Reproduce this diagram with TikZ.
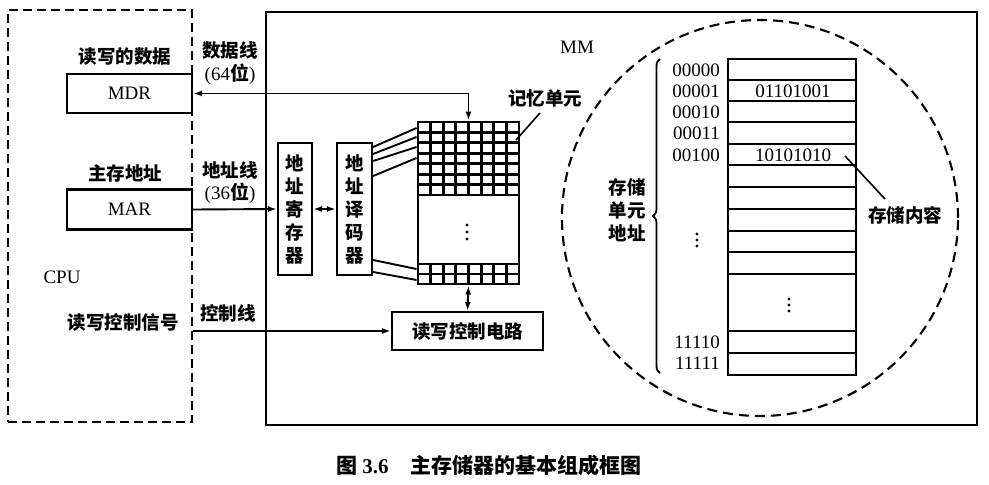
\documentclass[tikz,border=0pt]{standalone}
\usepackage{fontspec}
\setmainfont{Liberation Serif}
\newfontfamily\cjk{Noto Sans CJK SC}
\usetikzlibrary{arrows.meta,decorations.pathreplacing}

\tikzset{
  zh/.style={font=\fontsize{18.5}{22}\selectfont\cjk\bfseries, inner sep=0pt},
  la/.style={font=\fontsize{19}{22}\selectfont, inner sep=0pt},
  vert/.style={draw, line width=2.2pt, inner sep=0pt, align=center,
               font=\fontsize{18.5}{23}\selectfont\cjk\bfseries},
  box/.style={draw, line width=2.2pt, inner sep=0pt},
  dashbox/.style={draw, line width=2.1pt, inner sep=0pt, dash pattern=on 9pt off 5pt},
  wire/.style={line width=1.9pt},
  tip/.style={arrows={-Latex[length=9pt,width=6pt]}},
  both/.style={arrows={Latex[length=9pt,width=6pt]-Latex[length=9pt,width=6pt]}},
  cell/.style={line width=2.9pt},
  dotmark/.style={fill, circle, inner sep=0pt, minimum size=3.2pt}
}

\begin{document}
\begin{tikzpicture}[x=1pt, y=-1pt]
\useasboundingbox (0,0) rectangle (989,485);

% ---- CPU side ----
\node[dashbox, minimum width=184pt, minimum height=412pt] (cpu) at (100,216) {};
\node[box, minimum width=125pt, minimum height=39pt] (mdr) at (129.5,93.5) {};
\node[la] at (mdr) {MDR};
\node[box, minimum width=125pt, minimum height=40pt] (mar) at (129.5,209.5) {};
\node[la] at (mar) {MAR};
\node[zh] (tdata) at (125,57) {读写的数据};
\node[zh] (taddr) at (125,173) {主存地址};
\node[la] (tcpu) at (62,277) {CPU};
\node[zh] (tctl) at (123,322) {读写控制信号};

% ---- bus labels ----
\node[zh] (ldata) at (230,50) {数据线};
\node[la] (ldataw) at (230,74) {(64{\cjk\bfseries 位})};
\node[zh] (laddr) at (230,170) {地址线};
\node[la] (laddrw) at (230,193) {(36{\cjk\bfseries 位})};
\node[zh] (lctl) at (228,313) {控制线};

% ---- main memory ----
\node[box, minimum width=711pt, minimum height=413pt] (mm) at (621.5,218.5) {};
\node[la] (tmm) at (577,47) {MM};

\node[vert, minimum width=34pt, minimum height=132pt] (ar) at (295,209) {地\\址\\寄\\存\\器};
\node[vert, minimum width=35pt, minimum height=132pt] (dec) at (354.5,209) {地\\址\\译\\码\\器};

% storage array
\node[box, line width=2.9pt, minimum width=101pt, minimum height=162pt] (arr) at (468.5,203) {};
\foreach \i in {1,...,7} {
  \draw[cell] ({418+\i*12.625},122) -- ({418+\i*12.625},195);
  \draw[cell] ({418+\i*12.625},264) -- ({418+\i*12.625},284);
}
\foreach \j in {1,...,7} {
  \draw[cell] (418,{122+\j*10.43}) -- (519,{122+\j*10.43});
}
\draw[cell] (418,264) -- (519,264);
\draw[cell] (418,274) -- (519,274);
\foreach \y in {225,232,239} \node[dotmark] at (467,\y) {};

\node[zh] (tcell) at (545,98) {记忆单元};
\coordinate (cellpt) at (516,140);
\draw[line width=1.6pt] (540,113) -- (cellpt);

% word lines from the decoder
\foreach \a/\b in {147/128,154/137,161/147,176/158,260/269,272/280} {
  \draw[line width=1.9pt] (dec.east |- 0,\a) -- (arr.west |- 0,\b);
}

\node[box, minimum width=151pt, minimum height=38pt] (ctl) at (467.5,331) {};
\node[zh] at (ctl) {读写控制电路};

% ---- buses ----
\draw[wire, both] (mdr.east) -| (arr.north);
\draw[wire, tip] (mar.east) -- (ar.west);
\draw[wire, both] (ar.east) -- (dec.west);
\draw[wire, both] (arr.south) -- (ctl.north);
\draw[wire, tip] (cpu.east |- ctl.west) -- (ctl.west);

% ---- storage cells, enlarged ----
\node[draw, circle, line width=2.1pt, dash pattern=on 10pt off 6pt, minimum size=396pt] (zone) at (760,218) {};

\node[box, minimum width=128pt, minimum height=316pt] (tbl) at (792,217) {};
\foreach \y in {80,101,122,144,165,187,209,231,252,274,331,353}
  \draw[line width=2.2pt] (728,\y) -- (856,\y);
\foreach \y in {299,305,311} \node[dotmark] at (789,\y) {};

\foreach \t/\y in {00000/70,00001/91,00010/112,00011/133,00100/155,11110/342,11111/363}
  \node[la, anchor=east] at (720,\y) {\t};
\foreach \y in {234,240,246} \node[dotmark] at (697,\y) {};

\node[la] (c1) at (793,91) {01101001};
\node[la] (c2) at (793,155) {10101010};

\draw[line width=1.8pt, decorate, decoration={brace, amplitude=7pt}] (660,373) -- (660,59);
\node[zh, align=center, font=\fontsize{18.5}{23}\selectfont\cjk\bfseries] (taddrs) at (627,210) {存储\\单元\\地址};

\node[zh] (tcont) at (905,215) {存储内容};
\coordinate (contpt) at (845,156);
\draw[line width=1.6pt] (contpt) -- (885,199);

% ---- caption ----
\node[font=\fontsize{21}{24}\selectfont\cjk\bfseries, inner sep=0pt] (cap) at (489,465)
  {图 {\rmfamily\bfseries 3.6}\hspace{22pt}主存储器的基本组成框图};
\end{tikzpicture}
\end{document}
